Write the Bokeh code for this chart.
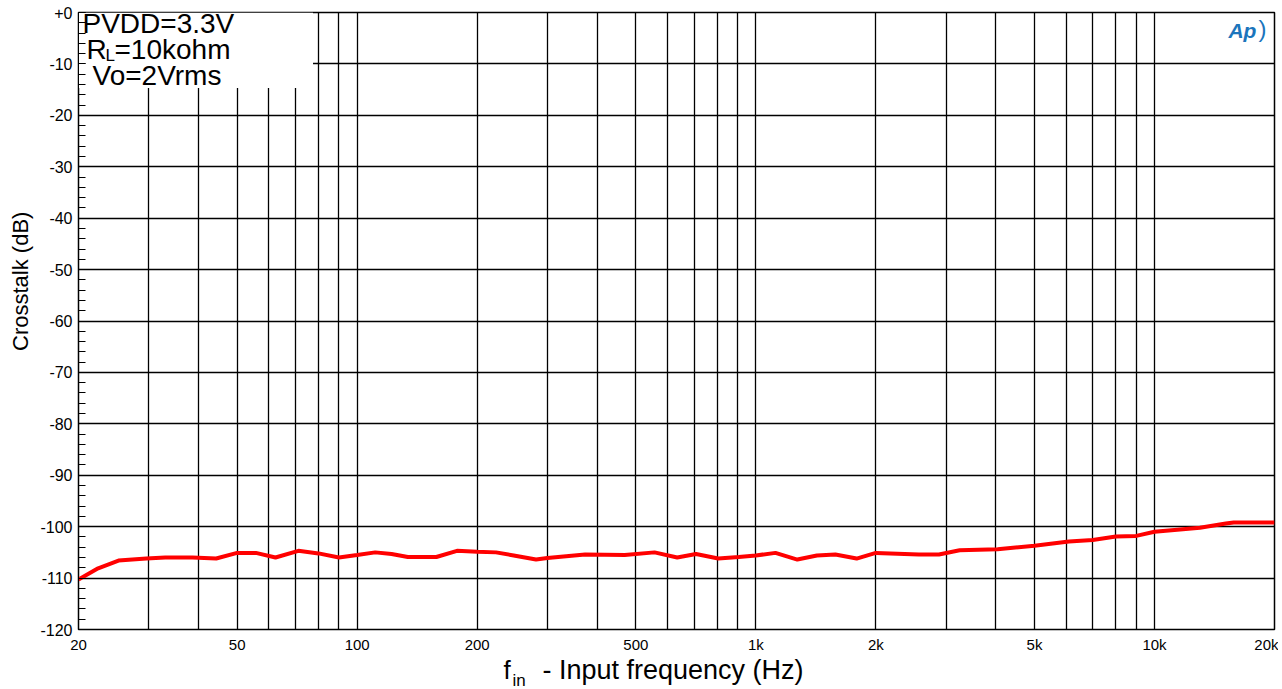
from bokeh.plotting import figure
from bokeh.layouts import column
from bokeh.models import FixedTicker, Label, BoxAnnotation, Range1d
from bokeh.embed import file_html
from bokeh.resources import INLINE

# ---- data ----
freq_hz = [20, 22.4, 25.2, 29.6, 33, 38.6, 44.3, 50, 55.7, 62.4,
           71.2, 80, 90, 100, 111, 122, 134, 158, 178, 200,
           223, 247, 281, 300, 373, 469, 557, 635, 708, 805,
           906, 1000, 1120, 1271, 1423, 1583, 1790, 2000, 2565, 2880,
           3245, 4040, 5000, 6100, 7000, 8000, 9000, 10000, 13000, 15100,
           15800, 20000]
crosstalk_db = [-110.3, -108.1, -106.6, -106.2, -106.0, -106.0, -106.2, -105.1, -105.1, -106.0,
                -104.7, -105.2, -106.0, -105.5, -105.0, -105.3, -105.9, -105.9, -104.7, -104.9,
                -105.0, -105.6, -106.4, -106.1, -105.4, -105.5, -105.0, -106.0, -105.3, -106.2,
                -105.9, -105.6, -105.1, -106.4, -105.6, -105.4, -106.2, -105.1, -105.4, -105.4,
                -104.6, -104.4, -103.7, -102.9, -102.6, -101.9, -101.8, -101.0, -100.2, -99.4,
                -99.2, -99.2]

x_tick_values = [20, 50, 100, 200, 500, 1000, 2000, 5000, 10000, 20000]
x_tick_labels = ["20", "50", "100", "200", "500", "1k", "2k", "5k", "10k", "20k"]
x_grid_values = [30, 40, 50, 60, 70, 80, 90, 100, 200, 300, 400, 500, 600, 700, 800, 900,
                 1000, 2000, 3000, 4000, 5000, 6000, 7000, 8000, 9000, 10000]
y_tick_values = list(range(-120, 1, 10))
y_tick_labels = ["-120", "-110", "-100", "-90", "-80", "-70", "-60", "-50", "-40",
                 "-30", "-20", "-10", "+0"]
y_minor_values = list(range(-120, 1, 2))

FONT = "Liberation Sans"
NBSP = "\u00a0"

p = figure(width=1278, height=655, x_axis_type="log",
           x_range=Range1d(20, 20000), y_range=Range1d(-120, 0),
           output_backend="svg", toolbar_location=None,
           min_border_left=78, min_border_right=4, min_border_top=12, min_border_bottom=25)
p.background_fill_color = "white"
p.border_fill_color = "white"
p.outline_line_color = "black"
p.outline_line_width = 1.5

# grids
p.xgrid.ticker = FixedTicker(ticks=x_grid_values)
p.ygrid.ticker = FixedTicker(ticks=y_tick_values)
for g in (p.xgrid, p.ygrid):
    g.grid_line_color = "black"
    g.grid_line_width = 1.3
    g.grid_line_alpha = 1.0

# x axis
xa = p.xaxis[0]
xa.ticker = FixedTicker(ticks=x_tick_values)
xa.major_label_overrides = {v: l for v, l in zip(x_tick_values, x_tick_labels)}
xa.major_tick_in = 0
xa.major_tick_out = 0
xa.minor_tick_in = 0
xa.minor_tick_out = 0
xa.axis_line_color = "black"
xa.major_label_text_font = FONT
xa.major_label_text_font_size = "15px"
xa.major_label_text_color = "black"
xa.major_label_standoff = 6

# y axis
ya = p.yaxis[0]
ya.ticker = FixedTicker(ticks=y_tick_values, minor_ticks=y_minor_values)
ya.major_label_overrides = {v: l for v, l in zip(y_tick_values, y_tick_labels)}
ya.major_tick_in = 7
ya.major_tick_out = 0
ya.minor_tick_in = 7
ya.minor_tick_out = 0
ya.axis_line_color = "black"
ya.major_tick_line_color = "black"
ya.minor_tick_line_color = "black"
ya.major_label_text_font = FONT
ya.major_label_text_font_size = "16px"
ya.major_label_text_color = "black"
ya.major_label_standoff = 6
# leading no-break spaces move the centred title up to where the reference has it
ya.axis_label = NBSP * 13 + "Crosstalk (dB)"
ya.axis_label_text_font = FONT
ya.axis_label_text_font_size = "22px"
ya.axis_label_text_font_style = "normal"
ya.axis_label_text_color = "black"
ya.axis_label_standoff = 4

# white box behind the condition text
box = BoxAnnotation(left=20, right=77.5, bottom=-14.7, top=0,
                    fill_color="white", fill_alpha=1.0, line_alpha=0, level="glyph")
p.add_layout(box)

# curve
p.line(freq_hz, crosstalk_db, line_color="#ff0000", line_width=4)


def fx(px):
    return 20 * 10 ** ((px - 78) / 398.7)


def fy(py):
    return -(py - 12) / 5.15


def add_text(fig, x, y, txt, size, color="black", style="normal"):
    fig.add_layout(Label(x=x, y=y, text=txt, text_font=FONT,
                         text_font_size=size, text_align="left", text_baseline="middle",
                         text_color=color, text_font_style=style))


# condition text
add_text(p, fx(82), fy(23), "PVDD=3.3V", "28px")
add_text(p, fx(86), fy(49), "R", "28px")
add_text(p, fx(105), fy(55), "L", "17px")
add_text(p, fx(114), fy(49), "=10kohm", "28px")
add_text(p, fx(92), fy(75), "Vo=2Vrms", "28px")

# logo
add_text(p, fx(1228), fy(30), "Ap", "21px", color="#1b75bc", style="bold italic")
add_text(p, fx(1258), fy(28), ")", "24px", color="#1b75bc")

# strip under the chart carrying the x-axis title (with its subscript);
# the column aligns its frame with the chart frame (x 78..1274 on the page)
p2 = figure(width=1278, height=34, x_range=Range1d(78, 1274), y_range=Range1d(689, 655),
            output_backend="svg", toolbar_location=None,
            x_axis_location=None, y_axis_location=None,
            min_border_left=0, min_border_right=0, min_border_top=0, min_border_bottom=0)
p2.outline_line_color = None
p2.grid.visible = False
p2.background_fill_color = "white"
p2.border_fill_color = "white"
add_text(p2, 503, 669, "f", "26px")
add_text(p2, 512, 680, "in", "17px")
add_text(p2, 542, 669, "- Input frequency (Hz)", "27px")

layout = column(p, p2, spacing=0)
open("out.html", "w").write(file_html(layout, INLINE))
